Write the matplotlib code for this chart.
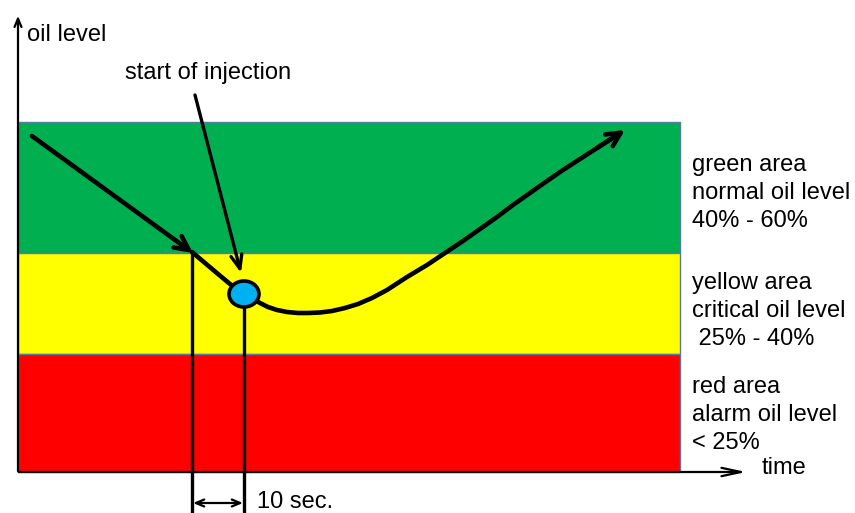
import matplotlib
matplotlib.use("Agg")
import matplotlib.pyplot as plt
from matplotlib.patches import Rectangle, Ellipse

plt.rcParams['font.family'] = ['Liberation Sans', 'DejaVu Sans']

# ---- data (diagram units: x = time axis, y = oil level, screen-like units) ----
band_left, band_right = 18, 680
band_edges = [122, 253, 354, 472]           # top of green, green/yellow, yellow/red, bottom
band_colors = ['#00B050', '#FFFF00', '#FF0000']
band_labels = ["green area\nnormal oil level\n40% - 60%",
               "yellow area\ncritical oil level\n 25% - 40%",
               "red area\nalarm oil level\n< 25%"]
band_label_y = [193, 311, 415]              # centre of each label block

# initial falling trend (arrow)
trend_x = [32, 193]
trend_y = [136, 253]

# oil-level curve after reaching critical band
curve_x = [192, 205, 218, 230, 244, 260, 268, 277, 287, 298, 309, 320, 332, 345,
           358, 372, 387, 407, 427, 445, 463, 480, 497, 513, 530, 547, 563, 580,
           597, 611, 625]
curve_y = [252, 263, 274, 284, 294, 303, 307, 310, 312, 313, 313, 312.5, 311, 308,
           304, 298, 290, 277, 265, 253, 241, 229, 217, 205, 193, 181, 170, 159,
           148, 139, 130]

reach_x = 192      # time the level enters yellow band
inject_x = 244     # start of injection
inject_y = 294

fig = plt.figure(figsize=(8.55, 5.13), dpi=100)
ax = fig.add_axes([0, 0, 1, 1])
ax.set_xlim(0, 855)
ax.set_ylim(513, 0)
ax.axis('off')

# bands
for i, c in enumerate(band_colors):
    ax.add_patch(Rectangle((band_left, band_edges[i]), band_right - band_left,
                           band_edges[i + 1] - band_edges[i], facecolor=c,
                           edgecolor='#5A7AA8', lw=1.0, zorder=1))
    ax.text(692, band_label_y[i], band_labels[i], fontsize=17, va='center',
            ha='left', linespacing=1.36, zorder=5)

# axes arrows
ax.annotate('', xy=(18, 13), xytext=(18, 474),
            arrowprops=dict(arrowstyle='->,head_length=0.6,head_width=0.25', lw=1.6, color='black'), zorder=4)
ax.annotate('', xy=(749, 472), xytext=(16, 472),
            arrowprops=dict(arrowstyle='->,head_length=1.4,head_width=0.3', lw=1.6, color='black'), zorder=4)
ax.text(27, 35, 'oil level', fontsize=17, va='center', ha='left')
ax.text(762, 468, 'time', fontsize=17, va='center', ha='left')

# trend arrow
ax.annotate('', xy=(trend_x[1], trend_y[1]), xytext=(trend_x[0], trend_y[0]),
            arrowprops=dict(arrowstyle='->,head_length=1.0,head_width=0.5', lw=3.3,
                            color='black', shrinkA=0, shrinkB=0), zorder=4)

# curve
ax.plot(curve_x[:-1], curve_y[:-1], color='black', lw=3.3, solid_capstyle='round',
        solid_joinstyle='round', zorder=3)
ax.annotate('', xy=(curve_x[-1], curve_y[-1]), xytext=(curve_x[-3], curve_y[-3]),
            arrowprops=dict(arrowstyle='->,head_length=1.0,head_width=0.5', lw=3.3,
                            color='black', shrinkA=0, shrinkB=0), zorder=4)

# vertical markers
ax.plot([reach_x, reach_x], [252, 511], color='black', lw=2.4, zorder=3)
ax.plot([inject_x, inject_x], [inject_y, 511], color='black', lw=2.4, zorder=3)

# injection point
ax.add_patch(Ellipse((inject_x, inject_y), 30, 26, facecolor='#00B0F0',
                     edgecolor='black', lw=2.6, zorder=6))

# start of injection label & arrow
ax.text(125, 73, 'start of injection', fontsize=17, va='center', ha='left')
ax.annotate('', xy=(241, 273), xytext=(195, 95),
            arrowprops=dict(arrowstyle='->,head_length=1.0,head_width=0.4', lw=2.4,
                            color='black', shrinkA=0, shrinkB=0), zorder=4)

# 10 sec interval
ax.annotate('', xy=(reach_x + 1, 503), xytext=(inject_x - 1, 503),
            arrowprops=dict(arrowstyle='<->,head_length=0.6,head_width=0.25', lw=1.6,
                            color='black', shrinkA=0, shrinkB=0), zorder=4)
ax.text(257, 502, '10 sec.', fontsize=17, va='center', ha='left')

fig.savefig('out.png', dpi=100)
